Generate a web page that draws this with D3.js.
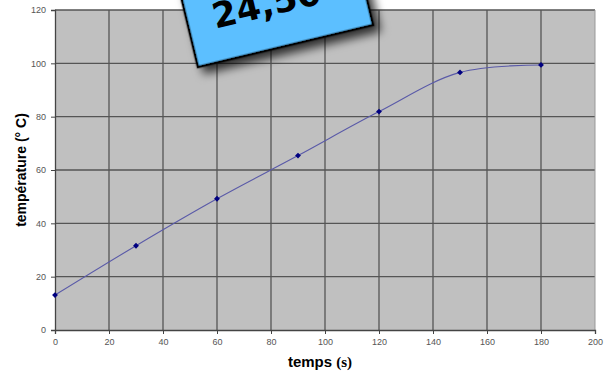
<!DOCTYPE html>
<html>
<head>
<meta charset="utf-8">
<script src="https://cdn.jsdelivr.net/npm/d3@7"></script>
<style>
  body { margin: 0; background: #fff; }
  svg { display: block; }
</style>
</head>
<body>
<div id="chart"></div>
<script>
// data
var temps = [0, 30, 60, 90, 120, 150, 180];
var temperature = [13.1, 31.6, 49.2, 65.4, 81.9, 96.6, 99.4];
var xTicks = [0, 20, 40, 60, 80, 100, 120, 140, 160, 180, 200];
var yTicks = [0, 20, 40, 60, 80, 100, 120];
var noteText = "24,50°C";

var W = 611, H = 374;
var margin = {top: 10, right: 16, bottom: 44, left: 55};
var width = W - margin.left - margin.right,
    height = H - margin.top - margin.bottom;

var svg = d3.select("#chart").append("svg")
    .attr("width", W)
    .attr("height", H);

var defs = svg.append("defs");
var f = defs.append("filter").attr("id", "shadow")
    .attr("x", "-20%").attr("y", "-20%").attr("width", "150%").attr("height", "150%");
f.append("feDropShadow")
    .attr("dx", 5).attr("dy", 7).attr("stdDeviation", 5)
    .attr("flood-color", "#000").attr("flood-opacity", 0.75);

var g = svg.append("g")
    .attr("transform", "translate(" + margin.left + "," + margin.top + ")");

var x = d3.scaleLinear().domain([0, 200]).range([0, width]);
var y = d3.scaleLinear().domain([0, 120]).range([height, 0]);

// plot background
g.append("rect")
    .attr("width", width).attr("height", height)
    .attr("fill", "#c0c0c0");

// grid
g.append("g").selectAll("line").data(xTicks.slice(1, -1)).enter().append("line")
    .attr("x1", function(d) { return x(d); }).attr("x2", function(d) { return x(d); })
    .attr("y1", 0).attr("y2", height)
    .attr("stroke", "#555").attr("stroke-width", 1.3);
g.append("g").selectAll("line").data(yTicks.slice(1)).enter().append("line")
    .attr("x1", 0).attr("x2", width)
    .attr("y1", function(d) { return y(d); }).attr("y2", function(d) { return y(d); })
    .attr("stroke", "#555").attr("stroke-width", 1.3);
g.append("line")
    .attr("x1", width).attr("x2", width).attr("y1", 0).attr("y2", height)
    .attr("stroke", "#999").attr("stroke-width", 1);

// axes
var xAxis = g.append("g")
    .attr("transform", "translate(0," + height + ")")
    .call(d3.axisBottom(x).tickValues(xTicks).tickSize(4).tickPadding(5));
var yAxis = g.append("g")
    .call(d3.axisLeft(y).tickValues(yTicks).tickSize(4).tickPadding(5));

[xAxis, yAxis].forEach(function(a) {
  a.select(".domain").attr("stroke", "#444").attr("stroke-width", 1.3);
  a.selectAll(".tick line").attr("stroke", "#444");
  a.selectAll(".tick text")
    .attr("fill", "#555")
    .style("font-family", "Liberation Sans Narrow, Liberation Sans, Arial, sans-serif")
    .style("font-size", "9px");
});

// smoothed line
var pts = temps.map(function(t, i) { return [t, temperature[i]]; });
g.append("path")
    .datum(pts)
    .attr("fill", "none")
    .attr("stroke", "#5a5aa8")
    .attr("stroke-width", 1.1)
    .attr("d", d3.line()
      .x(function(d) { return x(d[0]); })
      .y(function(d) { return y(d[1]); })
      .curve(d3.curveCatmullRom.alpha(0.5)));

// markers
g.append("g").selectAll("path").data(pts).enter().append("path")
    .attr("transform", function(d) { return "translate(" + x(d[0]) + "," + y(d[1]) + ")"; })
    .attr("d", d3.symbol().type(d3.symbolDiamond2).size(22))
    .attr("fill", "#000080");

// axis titles
svg.append("text")
    .attr("x", 320).attr("y", 367)
    .attr("text-anchor", "middle")
    .style("font-family", "Liberation Sans, Arial, sans-serif")
    .style("font-weight", "bold")
    .style("font-size", "15px")
    .text("temps ")
  .append("tspan")
    .style("font-family", "Liberation Serif, Times New Roman, serif")
    .text("(s)");

svg.append("text")
    .attr("transform", "translate(26,170) rotate(-90)")
    .attr("text-anchor", "middle")
    .style("font-family", "Liberation Sans, Arial, sans-serif")
    .style("font-weight", "bold")
    .style("font-size", "14px")
    .text("température (° C)");

// blue note
var note = svg.append("g")
    .attr("transform", "translate(198,67) rotate(-13.5)");
note.append("rect")
    .attr("x", 0).attr("y", -130)
    .attr("width", 180).attr("height", 130)
    .attr("fill", "#5bbfff")
    .attr("stroke", "#000")
    .attr("stroke-width", 2.5)
    .attr("filter", "url(#shadow)");
note.append("text")
    .attr("x", 26).attr("y", -33)
    .style("font-family", "DejaVu Sans, sans-serif")
    .style("font-weight", "bold")
    .style("font-size", "35px")
    .attr("fill", "#000")
    .text(noteText);
</script>
</body>
</html>
